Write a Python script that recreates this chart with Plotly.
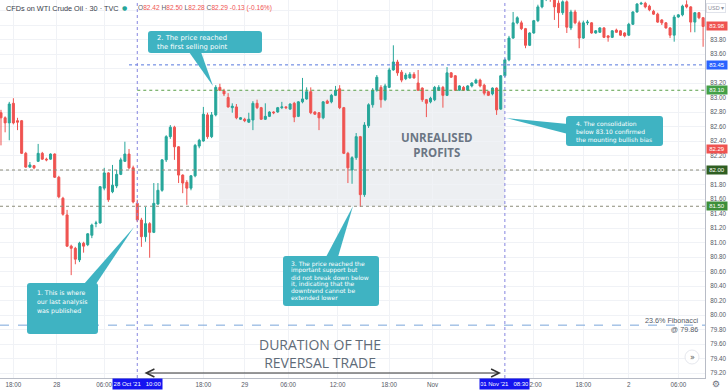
import plotly.graph_objects as go

# ---------------- data ----------------
opens = [
82.79, 82.72, 82.65, 82.92, 82.68, 82.68, 82.23, 82.04, 82.06, 82.12,
82.23, 82.15, 82.15, 82.22, 81.90, 81.61, 81.38, 80.95, 80.92, 80.76,
80.99, 80.97, 81.10, 81.26, 81.27, 81.75, 81.96, 81.70, 81.78, 81.94,
82.12, 82.22, 82.03, 81.54, 81.31, 81.08, 81.26, 81.14, 81.53, 81.72,
82.14, 82.46, 82.59, 82.32, 81.93, 81.83, 81.75, 81.92, 82.33, 82.40,
82.76, 82.46, 82.76, 83.14, 83.09, 83.00, 82.86, 82.87, 82.70, 82.70,
82.66, 82.69, 82.92, 82.86, 82.70, 82.74, 82.80, 82.80, 82.86, 82.87,
82.84, 82.92, 82.74, 82.94, 82.98, 83.08, 82.80, 82.79, 82.72, 82.95,
82.94, 83.03, 83.12, 82.86, 82.23, 82.00, 82.17, 82.46, 81.66, 82.61,
82.90, 83.10, 83.14, 82.97, 83.14, 83.38, 83.49, 83.35, 83.26, 83.27,
83.32, 83.20, 83.13, 82.97, 82.94, 82.97, 83.10, 83.14, 83.03, 83.34,
83.30, 83.10, 83.14, 83.10, 83.16, 83.20, 83.24, 83.17, 83.08, 83.05,
83.13, 82.84, 83.30, 83.52, 83.82, 84.03, 84.03, 83.95, 83.72, 83.89,
84.06, 84.25, 84.36, 84.42, 84.36, 84.30, 84.17, 84.32, 83.96, 84.18,
84.03, 83.82, 84.03, 84.03, 83.89, 83.90, 83.96, 83.85, 83.83, 83.93,
83.92, 83.89, 83.86, 84.01, 84.18, 84.29, 84.30, 84.26, 84.19, 84.15,
84.07, 84.03, 83.96, 83.86, 84.11, 84.14, 84.28, 84.25, 84.04, 84.17,
84.10]

closes = [
82.72, 82.65, 82.91, 82.65, 82.66, 82.23, 82.04, 82.07, 82.03, 82.23,
82.15, 82.14, 82.22, 81.90, 81.63, 81.39, 80.95, 80.92, 80.77, 80.99,
80.95, 81.12, 81.24, 81.27, 81.77, 81.96, 81.59, 81.79, 81.94, 82.14,
82.22, 82.03, 81.56, 81.31, 81.08, 81.26, 81.14, 81.54, 81.72, 82.14,
82.46, 82.59, 82.32, 81.93, 81.82, 81.75, 81.92, 82.34, 82.41, 82.77,
82.46, 82.76, 83.14, 83.10, 83.05, 82.87, 82.88, 82.72, 82.72, 82.68,
82.70, 82.92, 82.86, 82.70, 82.74, 82.80, 82.79, 82.86, 82.87, 82.86,
82.91, 82.73, 82.94, 82.98, 83.08, 82.79, 82.77, 82.72, 82.94, 82.92,
83.03, 83.10, 82.86, 82.23, 82.03, 82.17, 82.46, 81.66, 82.62, 82.90,
83.10, 83.28, 82.97, 83.16, 83.38, 83.49, 83.34, 83.24, 83.31, 83.32,
83.27, 83.10, 82.97, 82.92, 82.99, 83.14, 83.14, 83.03, 83.34, 83.28,
83.10, 83.16, 83.10, 83.16, 83.20, 83.24, 83.16, 83.06, 83.03, 83.13,
82.83, 83.30, 83.52, 83.82, 84.03, 84.10, 83.95, 83.72, 83.89, 84.06,
84.25, 84.36, 84.42, 84.36, 84.25, 84.17, 84.32, 83.97, 84.18, 84.03,
83.82, 84.03, 84.04, 83.89, 83.92, 83.96, 83.83, 83.83, 83.92, 83.90,
83.86, 83.85, 84.01, 84.18, 84.29, 84.30, 84.25, 84.21, 84.15, 84.04,
84.03, 83.96, 83.86, 84.11, 84.14, 84.26, 84.25, 84.04, 84.17, 84.10,
83.98]

highs = [
82.83, 82.74, 82.94, 82.99, 82.72, 82.69, 82.25, 82.11, 82.07, 82.36,
82.25, 82.17, 82.23, 82.23, 81.92, 81.63, 81.45, 80.97, 80.94, 81.01,
81.01, 81.13, 81.26, 81.30, 81.78, 82.03, 81.97, 82.07, 82.00, 82.17,
82.39, 82.29, 82.06, 81.59, 81.34, 81.49, 81.28, 81.82, 81.82, 82.15,
82.48, 82.62, 82.61, 82.33, 81.94, 81.86, 81.93, 82.36, 82.43, 82.87,
82.79, 82.80, 83.17, 83.19, 83.12, 83.06, 82.92, 82.91, 82.73, 82.72,
82.79, 82.95, 82.97, 82.87, 82.92, 82.81, 82.81, 82.87, 82.94, 82.88,
82.92, 82.94, 82.95, 83.27, 83.14, 83.14, 82.81, 82.80, 82.95, 82.97,
83.05, 83.16, 83.17, 82.87, 82.25, 82.19, 82.51, 82.47, 82.66, 82.92,
83.13, 83.31, 83.17, 83.19, 83.41, 83.72, 83.52, 83.38, 83.34, 83.35,
83.35, 83.38, 83.14, 82.98, 83.01, 83.16, 83.17, 83.16, 83.42, 83.35,
83.31, 83.17, 83.16, 83.17, 83.21, 83.26, 83.26, 83.19, 83.09, 83.14,
83.14, 83.31, 83.54, 83.85, 84.18, 84.12, 84.06, 83.96, 83.90, 84.07,
84.28, 84.40, 84.45, 84.46, 84.40, 84.34, 84.34, 84.34, 84.21, 84.21,
84.06, 84.06, 84.07, 84.04, 83.93, 83.97, 83.97, 83.86, 83.93, 83.95,
83.93, 83.90, 84.03, 84.19, 84.30, 84.32, 84.32, 84.28, 84.21, 84.17,
84.08, 84.04, 83.97, 84.14, 84.15, 84.28, 84.34, 84.26, 84.18, 84.18,
84.11]

lows = [
82.34, 82.52, 82.41, 82.63, 82.55, 82.22, 82.03, 82.03, 82.01, 82.11,
82.14, 82.12, 82.14, 81.89, 81.61, 81.37, 80.94, 80.55, 80.70, 80.73,
80.86, 80.95, 81.06, 81.21, 81.26, 81.72, 81.56, 81.68, 81.75, 81.93,
82.11, 82.01, 81.54, 81.28, 80.94, 81.01, 80.79, 81.13, 81.52, 81.70,
82.11, 82.43, 82.14, 81.82, 81.68, 81.52, 81.72, 81.90, 82.30, 82.39,
82.43, 82.44, 82.74, 83.09, 83.02, 82.86, 82.79, 82.70, 82.69, 82.66,
82.65, 82.55, 82.84, 82.69, 82.69, 82.73, 82.77, 82.79, 82.84, 82.84,
82.83, 82.66, 82.73, 82.92, 82.97, 82.77, 82.76, 82.55, 82.70, 82.91,
82.92, 83.02, 82.84, 82.22, 81.82, 81.81, 82.14, 81.49, 81.63, 82.58,
82.86, 83.08, 82.86, 82.95, 83.13, 83.37, 83.30, 83.21, 83.24, 83.26,
83.26, 83.09, 82.94, 82.73, 82.92, 82.95, 83.09, 82.86, 83.02, 83.27,
83.09, 83.09, 83.09, 83.09, 83.14, 83.19, 83.14, 83.03, 83.02, 83.03,
82.76, 82.83, 83.28, 83.50, 83.81, 84.01, 83.93, 83.68, 83.71, 83.88,
84.04, 84.23, 84.33, 84.32, 84.07, 83.96, 84.14, 83.89, 83.93, 84.01,
83.68, 83.81, 84.00, 83.88, 83.88, 83.89, 83.82, 83.77, 83.82, 83.89,
83.85, 83.83, 83.85, 84.00, 84.17, 84.28, 84.23, 84.19, 84.14, 84.03,
84.00, 83.95, 83.82, 83.77, 84.10, 84.12, 84.23, 83.90, 83.90, 84.08,
83.70]

n = min(len(opens), len(closes), len(highs), len(lows))
candle_idx = list(range(n))

time_tick_pos = [3, 13.5, 25, 49, 59, 69.5, 81.5, 94, 104.5, 129, 141, 152, 164]
time_tick_text = ["18:00", "28", "06:00", "18:00", "29", "06:00", "12:00",
                  "18:00", "Nov", "12:00", "18:00", "2", "06:00"]

price_tick_vals = [79.2, 79.4, 79.6, 79.8, 80.0, 80.2, 80.4, 80.6, 80.8, 81.0,
                   81.2, 81.4, 81.6, 81.8, 82.0, 82.2, 82.4, 82.6, 82.8, 83.0,
                   83.2, 83.4, 83.6, 83.8, 84.0, 84.2]
price_tick_hidden = [82.0, 83.4, 84.0, 84.2]   # covered by price badges / currency box
price_tick_text = ["" if v in price_tick_hidden else f"{v:.2f}" for v in price_tick_vals]

entry_idx, exit_idx = 33, 122          # 28 Oct '21 10:00 and 01 Nov '21 08:30
entry_label, exit_label = "28 Oct '21   10:00", "01 Nov '21   08:30"
level_first_target = 83.45
level_consolidation = 83.10
level_mid = 82.00
level_support = 81.50
level_fib = 79.86
last_price = 83.98
header_price = 82.29

# ---------------- geometry ----------------
W, H = 728, 391
ML, MR, MT, MB = 0, 23, 0, 13
PW, PH = W - ML - MR, H - MT - MB
X_RANGE = [-0.24, 170.46]
Y_RANGE = [79.131, 84.345]


def fx(x):
    return (x - ML) / PW


def fy(y):
    return 1 - (y - MT) / PH


GREEN = "#26a69a"
RED = "#ef5350"
TEAL = "#3fb3c2"

fig = go.Figure()
fig.add_trace(go.Candlestick(
    x=candle_idx, open=opens[:n], high=highs[:n], low=lows[:n], close=closes[:n],
    increasing=dict(line=dict(color=GREEN, width=1), fillcolor=GREEN),
    decreasing=dict(line=dict(color=RED, width=1), fillcolor=RED),
    whiskerwidth=0, hoverinfo="skip", showlegend=False))

shapes = []
ann = []

# shaded "unrealised profits" zone
shapes.append(dict(type="rect", xref="x", yref="y", x0=52.8, x1=exit_idx,
                   y0=level_support, y1=level_consolidation,
                   fillcolor="rgba(200,205,215,0.32)", line=dict(width=0), layer="below"))

# horizontal levels
shapes.append(dict(type="line", xref="x", yref="y", x0=31, x1=X_RANGE[1],
                   y0=level_first_target, y1=level_first_target,
                   line=dict(color="#5577dd", width=1, dash="dot")))
shapes.append(dict(type="line", xref="x", yref="y", x0=entry_idx, x1=X_RANGE[1],
                   y0=level_consolidation, y1=level_consolidation,
                   line=dict(color="#5a9f48", width=1, dash="dot")))
for lv in (level_mid, level_support):
    shapes.append(dict(type="line", xref="x", yref="y", x0=X_RANGE[0], x1=X_RANGE[1],
                       y0=lv, y1=lv, line=dict(color="#8c8c7a", width=1, dash="dot")))
shapes.append(dict(type="line", xref="x", yref="y", x0=X_RANGE[0], x1=X_RANGE[1],
                   y0=level_fib, y1=level_fib,
                   line=dict(color="#7aa6da", width=1, dash="dash")))

# vertical time markers
for xi in (entry_idx, exit_idx):
    shapes.append(dict(type="line", xref="x", yref="paper", x0=xi, x1=xi, y0=0, y1=1,
                       line=dict(color="#8585e0", width=1, dash="dot")))


def rrect(x0, y0, x1, y1, r=3):
    return (f"M{fx(x0 + r)},{fy(y0)} L{fx(x1 - r)},{fy(y0)} "
            f"Q{fx(x1)},{fy(y0)} {fx(x1)},{fy(y0 + r)} L{fx(x1)},{fy(y1 - r)} "
            f"Q{fx(x1)},{fy(y1)} {fx(x1 - r)},{fy(y1)} L{fx(x0 + r)},{fy(y1)} "
            f"Q{fx(x0)},{fy(y1)} {fx(x0)},{fy(y1 - r)} L{fx(x0)},{fy(y0 + r)} "
            f"Q{fx(x0)},{fy(y0)} {fx(x0 + r)},{fy(y0)} Z")


callouts = [
    dict(box=(27, 283, 98, 334), tail=[(84, 284), (96, 284), (134, 227)],
         lines=["1. This is where", "our last analysis", "was published"],
         x=35, y0=292, dy=9.5, size=6.2),
    dict(box=(148, 31, 262, 53), tail=[(189, 52), (201, 52), (213, 86)],
         lines=["2. The price reached", "the first selling point"],
         x=155, y0=38, dy=8.5, size=6.8),
    dict(box=(283, 256, 379, 306), tail=[(326, 257), (338, 257), (353, 206)],
         lines=["3. The price reached the", "important support but",
                "did not break down below", "it, indicating that the",
                "downtrend cannot be", "extended lower"],
         x=289, y0=263.5, dy=6.8, size=6.0),
    dict(box=(566, 116, 663, 146), tail=[(568, 124), (568, 134), (506, 118)],
         lines=["4. The consolidation", "below 83.10 confirmed", "the mounting bullish bias"],
         x=574, y0=123.5, dy=8, size=6.0),
]
for c in callouts:
    (a, b), (cc, d), (e, f) = c["tail"]
    shapes.append(dict(type="path", xref="paper", yref="paper",
                       path=f"M{fx(a)},{fy(b)} L{fx(cc)},{fy(d)} L{fx(e)},{fy(f)} Z",
                       fillcolor=TEAL, line=dict(width=0), layer="above"))
    shapes.append(dict(type="path", xref="paper", yref="paper", path=rrect(*c["box"]),
                       fillcolor=TEAL, line=dict(width=0), layer="above"))
    for i, t in enumerate(c["lines"]):
        ann.append(dict(xref="paper", yref="paper", x=fx(c["x"]), y=fy(c["y0"] + i * c["dy"]),
                        text=t, showarrow=False, xanchor="left", yanchor="middle",
                        font=dict(family="DejaVu Sans", size=c["size"], color="white")))

# big labels
ann.append(dict(xref="paper", yref="paper", x=fx(437), y=fy(145),
                text="<b>UNREALISED</b><br><b>PROFITS</b>", showarrow=False,
                font=dict(family="Open Sans", size=11.5, color="#6b7684"),
                xanchor="center", yanchor="middle"))
ann.append(dict(xref="paper", yref="paper", x=fx(320), y=fy(353),
                text="DURATION OF THE<br>REVERSAL TRADE", showarrow=False,
                font=dict(family="Open Sans", size=14, color="#5f6b78"),
                xanchor="center", yanchor="middle"))

# double-headed arrow for trade duration
ann.append(dict(xref="x", yref="paper", x=(501 - 1) / 4.13, y=fy(373),
                axref="x", ayref="pixel", ax=(143 - 1) / 4.13, ay=0, text="",
                showarrow=True, arrowside="end+start", arrowhead=5, startarrowhead=5,
                arrowsize=1.6, startarrowsize=1.6, arrowwidth=1, arrowcolor="#333333"))

# fibonacci label
ann.append(dict(xref="paper", yref="paper", x=fx(701), y=fy(325),
                text="23.6% Fibonacci<br>@ 79.86", showarrow=False, align="right",
                xanchor="right", yanchor="middle",
                font=dict(family="Liberation Sans", size=7.2, color="#555a66")))

# header
ann.append(dict(xref="paper", yref="paper", x=fx(4), y=fy(8),
                text="CFDs on WTI Crude Oil · 30 · TVC", showarrow=False,
                xanchor="left", yanchor="middle",
                font=dict(family="Liberation Sans", size=7.3, color="#3a3e4a")))
ann.append(dict(xref="paper", yref="paper", x=fx(124), y=fy(7.5), text="●",
                showarrow=False, xanchor="center", yanchor="middle",
                font=dict(family="DejaVu Sans", size=6, color=GREEN)))
rc = RED
ohlc = (f"O<span style='color:{rc}'>82.42</span> H<span style='color:{rc}'>82.50</span> "
        f"L<span style='color:{rc}'>82.28</span> C<span style='color:{rc}'>82.29</span> "
        f"<span style='color:{rc}'>-0.13 (-0.16%)</span>")
ann.append(dict(xref="paper", yref="paper", x=fx(136), y=fy(8), text=ohlc,
                showarrow=False, xanchor="left", yanchor="middle",
                font=dict(family="Liberation Sans", size=6.6, color="#5a5e6a")))

# right-axis price badges
badges = [(last_price, RED), (level_first_target, "#2962ff"),
          (level_consolidation, "#43a047"), (header_price, RED),
          (level_mid, "#2f5f22"), (level_support, "#3d8f3a")]
for val, col in badges:
    ann.append(dict(xref="paper", yref="y", x=fx(716.5), y=val, text=f"{val:.2f}",
                    showarrow=False, xanchor="center", yanchor="middle",
                    bgcolor=col, width=19, height=6.5, borderpad=0.5,
                    font=dict(family="Liberation Sans", size=6.0, color="white")))

# time badges on x-axis
for xi, lab in ((entry_idx, entry_label), (exit_idx, exit_label)):
    ann.append(dict(xref="x", yref="paper", x=xi, y=fy(383.5), text=lab,
                    showarrow=False, xanchor="center", yanchor="middle",
                    bgcolor="#1414f0", width=48, height=9, borderpad=0.5,
                    font=dict(family="Liberation Sans", size=6.0, color="white")))

# misc ui
ann.append(dict(xref="paper", yref="paper", x=fx(716), y=fy(8), text="USD ▾",
                showarrow=False, xanchor="center", yanchor="middle",
                bordercolor="#e0e3eb", borderwidth=1, borderpad=1,
                font=dict(family="Liberation Sans", size=5.5, color="#8a8e99")))
ann.append(dict(xref="paper", yref="paper", x=fx(716), y=fy(384), text="⚙",
                showarrow=False, xanchor="center", yanchor="middle",
                font=dict(family="DejaVu Sans", size=9, color="#6a6e79")))
shapes.append(dict(type="circle", xref="paper", yref="paper",
                   x0=fx(685), x1=fx(699), y0=fy(350), y1=fy(364),
                   fillcolor="white", line=dict(color="#e6e8ee", width=1), layer="above"))
ann.append(dict(xref="paper", yref="paper", x=fx(692), y=fy(357), text="»",
                showarrow=False, xanchor="center", yanchor="middle",
                font=dict(family="DejaVu Sans", size=8, color="#555")))

fig.update_layout(
    width=W, height=H, margin=dict(l=ML, r=MR, t=MT, b=MB, pad=0),
    paper_bgcolor="white", plot_bgcolor="white", showlegend=False,
    boxgap=0.3, shapes=shapes, annotations=ann,
    xaxis=dict(range=X_RANGE, rangeslider=dict(visible=False), tickmode="array",
               tickvals=time_tick_pos, ticktext=time_tick_text, showgrid=True,
               gridcolor="#f0f2f6", gridwidth=1, zeroline=False, showline=True,
               linecolor="#b8bcc6", linewidth=1, ticks="", ticklen=0,
               tickfont=dict(family="Liberation Sans", size=6.3, color="#555a66")),
    yaxis=dict(range=Y_RANGE, side="right", tickmode="array",
               tickvals=price_tick_vals, ticktext=price_tick_text,
               showgrid=True, gridcolor="#f0f2f6", gridwidth=1, zeroline=False,
               showline=True, linecolor="#b8bcc6", linewidth=1, ticks="",
               ticklabelstandoff=3,
               tickfont=dict(family="Liberation Sans", size=6.3, color="#555a66")),
)

fig.write_html("out.html", config={"displayModeBar": False},
               post_script="document.body.style.margin='0';document.body.style.overflow='hidden';")
